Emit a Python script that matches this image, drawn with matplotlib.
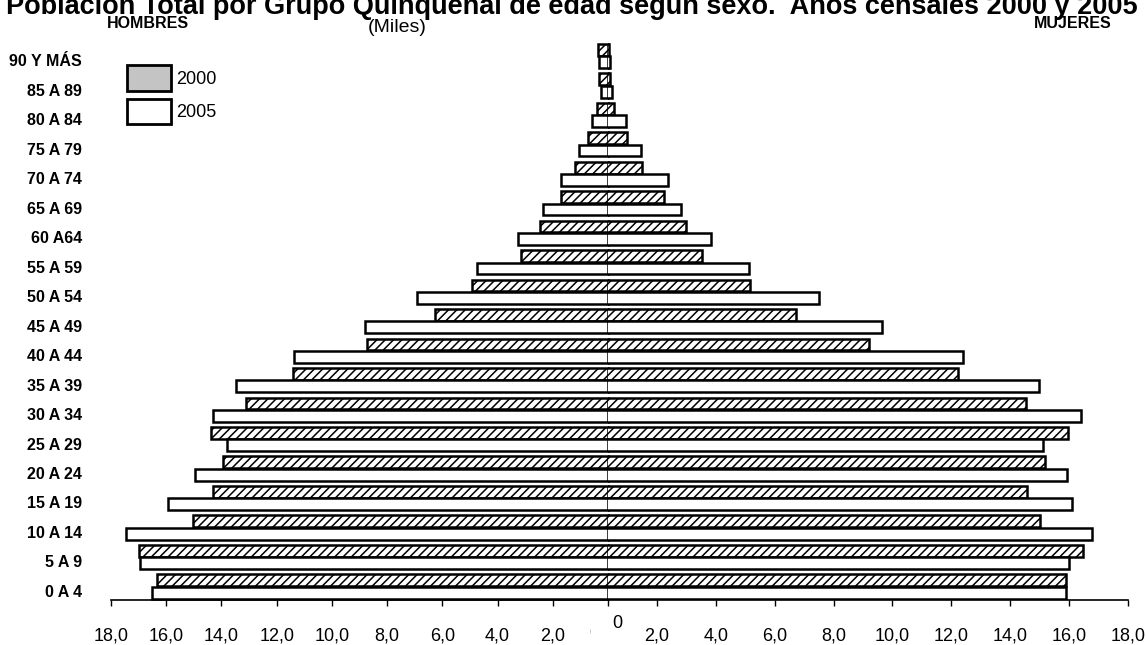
import numpy as np
import matplotlib
matplotlib.use('Agg')
import matplotlib.pyplot as plt
from matplotlib import font_manager
from matplotlib.patches import Patch, Rectangle

grupos = ['0 A 4', '5 A 9', '10 A 14', '15 A 19', '20 A 24', '25 A 29', '30 A 34',
          '35 A 39', '40 A 44', '45 A 49', '50 A 54', '55 A 59', '60 A64', '65 A 69',
          '70 A 74', '75 A 79', '80 A 84', '85 A 89', '90 Y MÁS']
hombres_2000 = [16.35, 16.97, 15.04, 14.29, 13.95, 14.37, 13.10, 11.40, 8.72, 6.27,
                4.94, 3.16, 2.45, 1.70, 1.21, 0.74, 0.39, 0.32, 0.35]
hombres_2005 = [16.51, 16.95, 17.44, 15.93, 14.97, 13.79, 14.29, 13.46, 11.38, 8.80,
                6.91, 4.74, 3.25, 2.35, 1.71, 1.05, 0.59, 0.25, 0.32]
mujeres_2000 = [15.88, 16.46, 15.01, 14.57, 15.17, 15.95, 14.53, 12.24, 9.22, 6.72,
                5.17, 3.54, 3.00, 2.24, 1.49, 0.98, 0.54, 0.40, 0.38]
mujeres_2005 = [15.88, 15.98, 16.77, 16.10, 15.92, 15.10, 16.41, 14.98, 12.40, 9.65,
                7.51, 5.13, 3.84, 2.82, 2.39, 1.46, 0.94, 0.49, 0.40]
anios = ['2000', '2005']
ticks = [0, 2, 4, 6, 8, 10, 12, 14, 16, 18]

W, H = 1146, 645
plt.rcParams['font.family'] = ['Liberation Sans', 'DejaVu Sans']
plt.rcParams['hatch.linewidth'] = 1.1

nombres = {f.name for f in font_manager.fontManager.ttflist}
if 'Liberation Sans Narrow' in nombres:
    narrow, narrow_size = 'Liberation Sans Narrow', 14
else:
    narrow, narrow_size = 'Liberation Sans', 11.5


def px(x0, y0, x1, y1):
    # caja en pixeles (desde arriba) -> fracciones de figura
    return [x0 / W, 1 - y1 / H, (x1 - x0) / W, (y1 - y0) / H]


def fmt(v):
    return f'{v:.1f}'.replace('.', ',')


fig = plt.figure(figsize=(W / 100, H / 100), dpi=100)
ax_h = fig.add_axes(px(111, 42.4, 608, 600), facecolor='none')
ax_m = fig.add_axes(px(608, 42.4, 1128, 600), facecolor='none')

y = np.arange(len(grupos))
alto = 0.40
estilo_2000 = dict(height=alto, color='white', edgecolor='black', hatch='////', linewidth=1.8)
estilo_2005 = dict(height=alto, color='white', edgecolor='black', linewidth=1.8)

ax_h.barh(y + 0.21, hombres_2000, clip_on=False, **estilo_2000)
ax_h.barh(y - 0.21, hombres_2005, clip_on=False, **estilo_2005)
ax_m.barh(y + 0.21, mujeres_2000, **estilo_2000)
ax_m.barh(y - 0.21, mujeres_2005, **estilo_2005)

ax_h.set_xlim(18, 0)
ax_m.set_xlim(0.34, 18)
for ax in (ax_h, ax_m):
    ax.set_ylim(-0.46, 18.46)
    for s in ('top', 'left', 'right'):
        ax.spines[s].set_visible(False)
    ax.spines['bottom'].set_linewidth(1.2)
    ax.tick_params(axis='x', length=4.5, width=1, pad=15, labelsize=13)

ax_h.set_xticks(ticks, [fmt(t) if t else '' for t in ticks])
ax_m.set_xticks(ticks[1:], [fmt(t) for t in ticks[1:]])

ax_h.set_yticks(y - 0.15, grupos)
ax_h.tick_params(axis='y', length=0, pad=21)
for lab in ax_h.get_yticklabels():
    lab.set_fontfamily(narrow)
    lab.set_fontweight('bold')
    lab.set_fontsize(narrow_size)
ax_m.set_yticks([])

# "0" del eje izquierdo, tapado en parte por el grafico de la derecha
fig.text(594 / W, 1 - 634 / H, '0', fontsize=13, ha='center', va='center')
fig.patches.append(Rectangle((591 / W, 0), 40 / W, 30 / H, transform=fig.transFigure,
                             facecolor='white', edgecolor='none', zorder=5))
fig.text(617 / W, 1 - 624 / H, '0', fontsize=13, ha='center', va='center', zorder=6)

handles = [Patch(facecolor='#c4c4c4', edgecolor='black', linewidth=2),
           Patch(facecolor='white', edgecolor='black', linewidth=2)]
fig.legend(handles, anios, loc='upper left', bbox_to_anchor=(127 / W, 1 - 65 / H),
           frameon=False, fontsize=13, handlelength=2.45, handleheight=1.8,
           handletextpad=0.25, labelspacing=0.45, borderpad=0, borderaxespad=0)

fig.text(572 / W, 1 - 14 / H,
         'Población Total por Grupo Quinquenal de edad según sexo.  Años censales 2000 y 2005',
         fontsize=19.5, fontweight='bold', ha='center', va='baseline')
fig.text(148 / W, 1 - 23 / H, 'HOMBRES', fontfamily=narrow, fontweight='bold',
         fontsize=narrow_size, ha='center', va='center')
fig.text(1073 / W, 1 - 24 / H, 'MUJERES', fontfamily=narrow, fontweight='bold',
         fontsize=narrow_size, ha='center', va='center')
fig.text(397 / W, 1 - 27 / H, '(Miles)', fontsize=14, ha='center', va='center')

fig.savefig('out.png', dpi=100)
